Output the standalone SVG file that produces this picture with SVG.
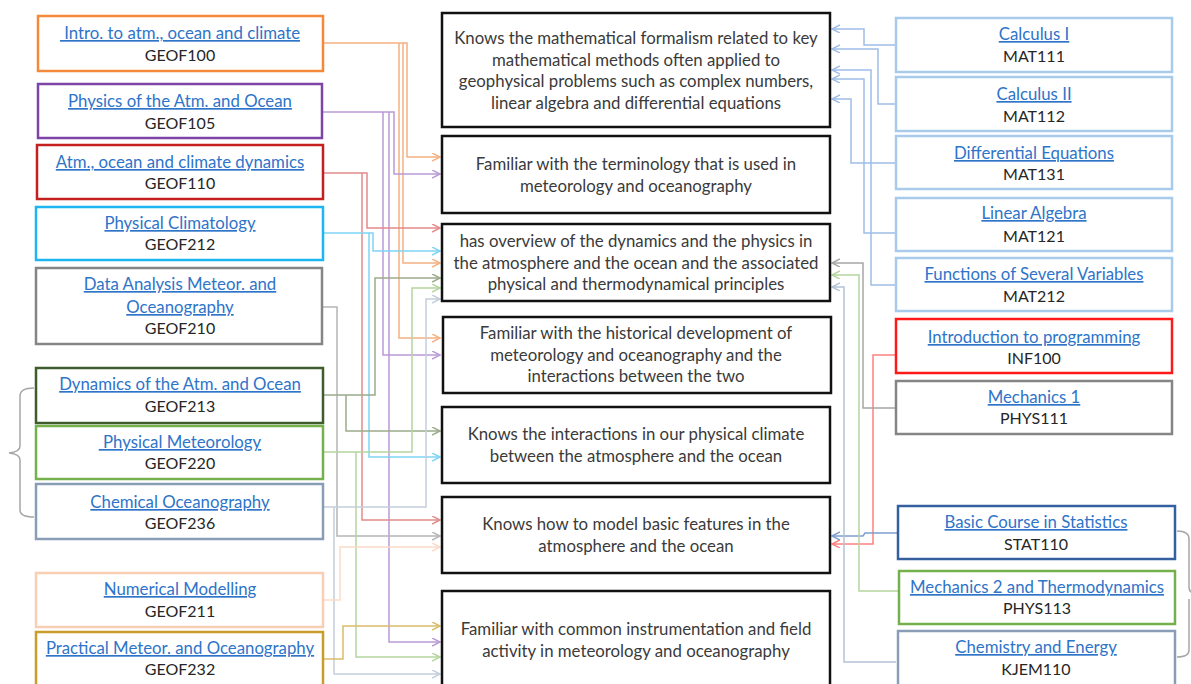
<svg xmlns="http://www.w3.org/2000/svg" width="1191" height="684" viewBox="0 0 1191 684">
<defs>
<style>
.t{font-family:Lato,"Liberation Sans",sans-serif;font-size:16.8px;text-anchor:middle}
.ln{fill:#2E74C9;text-decoration:underline}
.cd{fill:#262626;font-size:16px}
.ob{fill:#3A3A3A}
.nb{fill:#fff;stroke-width:2.5}
.cb{fill:#fff;stroke:#111;stroke-width:2.5}
.c{fill:none;stroke-width:1.5}
</style>
<marker id="a-or" markerWidth="10" markerHeight="10" refX="8" refY="4" orient="auto" markerUnits="userSpaceOnUse"><path d="M0,0 L8,4 L0,8" fill="none" stroke="#F4B183" stroke-width="1.5"/></marker>
<marker id="a-pu" markerWidth="10" markerHeight="10" refX="8" refY="4" orient="auto" markerUnits="userSpaceOnUse"><path d="M0,0 L8,4 L0,8" fill="none" stroke="#B99BD6" stroke-width="1.5"/></marker>
<marker id="a-re" markerWidth="10" markerHeight="10" refX="8" refY="4" orient="auto" markerUnits="userSpaceOnUse"><path d="M0,0 L8,4 L0,8" fill="none" stroke="#E48B8B" stroke-width="1.5"/></marker>
<marker id="a-lb" markerWidth="10" markerHeight="10" refX="8" refY="4" orient="auto" markerUnits="userSpaceOnUse"><path d="M0,0 L8,4 L0,8" fill="none" stroke="#7FD3F4" stroke-width="1.5"/></marker>
<marker id="a-gr" markerWidth="10" markerHeight="10" refX="8" refY="4" orient="auto" markerUnits="userSpaceOnUse"><path d="M0,0 L8,4 L0,8" fill="none" stroke="#B5B5B5" stroke-width="1.5"/></marker>
<marker id="a-dg" markerWidth="10" markerHeight="10" refX="8" refY="4" orient="auto" markerUnits="userSpaceOnUse"><path d="M0,0 L8,4 L0,8" fill="none" stroke="#9AAA8A" stroke-width="1.5"/></marker>
<marker id="a-gn" markerWidth="10" markerHeight="10" refX="8" refY="4" orient="auto" markerUnits="userSpaceOnUse"><path d="M0,0 L8,4 L0,8" fill="none" stroke="#B5D59E" stroke-width="1.5"/></marker>
<marker id="a-bg" markerWidth="10" markerHeight="10" refX="8" refY="4" orient="auto" markerUnits="userSpaceOnUse"><path d="M0,0 L8,4 L0,8" fill="none" stroke="#C4CEDC" stroke-width="1.5"/></marker>
<marker id="a-lo" markerWidth="10" markerHeight="10" refX="8" refY="4" orient="auto" markerUnits="userSpaceOnUse"><path d="M0,0 L8,4 L0,8" fill="none" stroke="#FADBC8" stroke-width="1.5"/></marker>
<marker id="a-go" markerWidth="10" markerHeight="10" refX="8" refY="4" orient="auto" markerUnits="userSpaceOnUse"><path d="M0,0 L8,4 L0,8" fill="none" stroke="#D9BC6A" stroke-width="1.5"/></marker>
<marker id="a-mb" markerWidth="10" markerHeight="10" refX="8" refY="4" orient="auto" markerUnits="userSpaceOnUse"><path d="M0,0 L8,4 L0,8" fill="none" stroke="#9FBDE8" stroke-width="1.5"/></marker>
<marker id="a-rr" markerWidth="10" markerHeight="10" refX="8" refY="4" orient="auto" markerUnits="userSpaceOnUse"><path d="M0,0 L8,4 L0,8" fill="none" stroke="#FF8080" stroke-width="1.5"/></marker>
<marker id="a-g2" markerWidth="10" markerHeight="10" refX="8" refY="4" orient="auto" markerUnits="userSpaceOnUse"><path d="M0,0 L8,4 L0,8" fill="none" stroke="#A6A6A6" stroke-width="1.5"/></marker>
<marker id="a-db" markerWidth="10" markerHeight="10" refX="8" refY="4" orient="auto" markerUnits="userSpaceOnUse"><path d="M0,0 L8,4 L0,8" fill="none" stroke="#7F9FD0" stroke-width="1.5"/></marker>
<marker id="a-kb" markerWidth="10" markerHeight="10" refX="8" refY="4" orient="auto" markerUnits="userSpaceOnUse"><path d="M0,0 L8,4 L0,8" fill="none" stroke="#B4C2D8" stroke-width="1.5"/></marker>
</defs>
<rect width="1191" height="684" fill="#fff"/>

<g id="connectors">
<path class="c" stroke="#F4B183" marker-end="url(#a-or)" d="M323,43 H407 V157 H440"/>
<path class="c" stroke="#F4B183" marker-end="url(#a-or)" d="M403,43 V263 H440"/>
<path class="c" stroke="#F4B183" marker-end="url(#a-or)" d="M399,43 V338 H440"/>
<path class="c" stroke="#B99BD6" marker-end="url(#a-pu)" d="M323,112 H394 V174 H440"/>
<path class="c" stroke="#B99BD6" marker-end="url(#a-pu)" d="M389,112 V642 H440"/>
<path class="c" stroke="#B99BD6" marker-end="url(#a-pu)" d="M383,112 V355 H440"/>
<path class="c" stroke="#E48B8B" marker-end="url(#a-re)" d="M323,173 H367 V228 H440"/>
<path class="c" stroke="#E48B8B" marker-end="url(#a-re)" d="M362,173 V520 H440"/>
<path class="c" stroke="#7FD3F4" marker-end="url(#a-lb)" d="M323,233 H373 V251 H440"/>
<path class="c" stroke="#7FD3F4" marker-end="url(#a-lb)" d="M369,233 V457 H440"/>
<path class="c" stroke="#B5B5B5" marker-end="url(#a-gr)" d="M323,307 H337 V536 H440"/>
<path class="c" stroke="#9AAA8A" marker-end="url(#a-dg)" d="M323,395 H375 V278 H440"/>
<path class="c" stroke="#9AAA8A" marker-end="url(#a-dg)" d="M346,395 V431 H440"/>
<path class="c" stroke="#B5D59E" marker-end="url(#a-gn)" d="M323,452 H412 V288 H440"/>
<path class="c" stroke="#B5D59E" marker-end="url(#a-gn)" d="M356,452 V657 H440"/>
<path class="c" stroke="#C4CEDC" marker-end="url(#a-bg)" d="M323,507 H426 V299 H440"/>
<path class="c" stroke="#C4CEDC" marker-end="url(#a-bg)" d="M334,507 V674 H440"/>
<path class="c" stroke="#FADBC8" marker-end="url(#a-lo)" d="M323,600 H340 V547 H440"/>
<path class="c" stroke="#D9BC6A" marker-end="url(#a-go)" d="M323,659 H343 V626 H440"/>

<path class="c" stroke="#9FBDE8" marker-end="url(#a-mb)" d="M896,45 H864 V29 H832"/>
<path class="c" stroke="#9FBDE8" marker-end="url(#a-mb)" d="M896,104 H878 V49 H832"/>
<path class="c" stroke="#9FBDE8" marker-end="url(#a-mb)" d="M896,163 H851 V99 H832"/>
<path class="c" stroke="#9FBDE8" marker-end="url(#a-mb)" d="M896,233 H864 V79 H832"/>
<path class="c" stroke="#9FBDE8" marker-end="url(#a-mb)" d="M896,285 H871 V70 H832"/>
<path class="c" stroke="#FF8080" marker-end="url(#a-rr)" d="M896,355 H873 V544 H832"/>
<path class="c" stroke="#A6A6A6" marker-end="url(#a-g2)" d="M896,408 H863 V263 H832"/>
<path class="c" stroke="#7F9FD0" marker-end="url(#a-db)" d="M898,533 H865 L863,536 H832"/>
<path class="c" stroke="#B5D59E" marker-end="url(#a-gn)" d="M899,591 H859 V275 H832"/>
<path class="c" stroke="#B4C2D8" marker-end="url(#a-kb)" d="M896,662 H844 V287 H832"/>

<path class="c" stroke="#A6A6A6" d="M34,388 Q20,388 20,396 V446 Q20,452 9,453 Q20,454 20,460 V510 Q20,517 34,517"/>
<path class="c" stroke="#A6A6A6" d="M1177,531 Q1189,531 1189,539 V587 Q1189,593 1195,593 M1189,599 V650 Q1189,657 1177,657"/>
</g>

<g id="geof100"><rect class="nb" x="38" y="16" width="285" height="55" stroke="#F4893A"/><text class="t ln" x="180" y="39" xml:space="preserve"> Intro. to atm., ocean and climate</text><text class="t cd" x="180" y="61">GEOF100</text></g>
<g id="geof105"><rect class="nb" x="38" y="84" width="284" height="54" stroke="#7E44A8"/><text class="t ln" x="180" y="107">Physics of the Atm. and Ocean</text><text class="t cd" x="180" y="129">GEOF105</text></g>
<g id="geof110"><rect class="nb" x="37" y="145" width="286" height="54" stroke="#C42020"/><text class="t ln" x="180" y="168">Atm., ocean and climate dynamics</text><text class="t cd" x="180" y="189">GEOF110</text></g>
<g id="geof212"><rect class="nb" x="36" y="207" width="287" height="53" stroke="#1EB6F0"/><text class="t ln" x="180" y="229">Physical Climatology</text><text class="t cd" x="180" y="250">GEOF212</text></g>
<g id="geof210"><rect class="nb" x="36" y="268" width="286" height="76" stroke="#858585"/><text class="t ln" x="180" y="290">Data Analysis Meteor. and</text><text class="t ln" x="180" y="313">Oceanography</text><text class="t cd" x="180" y="334">GEOF210</text></g>
<g id="geof213"><rect class="nb" x="36" y="368" width="287" height="55" stroke="#3F5D2C"/><text class="t ln" x="180" y="390">Dynamics of the Atm. and Ocean</text><text class="t cd" x="180" y="412">GEOF213</text></g>
<g id="geof220"><rect class="nb" x="36" y="426" width="287" height="53" stroke="#74B04C"/><text class="t ln" x="180" y="448" xml:space="preserve"> Physical Meteorology</text><text class="t cd" x="180" y="469">GEOF220</text></g>
<g id="geof236"><rect class="nb" x="36" y="484" width="287" height="55" stroke="#8A9DB6"/><text class="t ln" x="180" y="508">Chemical Oceanography</text><text class="t cd" x="180" y="529">GEOF236</text></g>
<g id="geof211"><rect class="nb" x="36" y="573" width="287" height="54" stroke="#F9CFB4"/><text class="t ln" x="180" y="595">Numerical Modelling</text><text class="t cd" x="180" y="617">GEOF211</text></g>
<g id="geof232"><rect class="nb" x="36" y="632" width="287" height="56" stroke="#C99D2A"/><text class="t ln" x="180" y="654">Practical Meteor. and Oceanography</text><text class="t cd" x="180" y="675">GEOF232</text></g>

<g id="o1"><rect class="cb" x="442" y="13" width="388" height="114"/><text class="t ob" x="636" y="44">Knows the mathematical formalism related to key</text><text class="t ob" x="636" y="66">mathematical methods often applied to</text><text class="t ob" x="636" y="87">geophysical problems such as complex numbers,</text><text class="t ob" x="636" y="109">linear algebra and differential equations</text></g>
<g id="o2"><rect class="cb" x="442" y="136" width="388" height="77"/><text class="t ob" x="636" y="170">Familiar with the terminology that is used in</text><text class="t ob" x="636" y="192">meteorology and oceanography</text></g>
<g id="o3"><rect class="cb" x="442" y="224" width="388" height="77"/><text class="t ob" x="636" y="247">has overview of the dynamics and the physics in</text><text class="t ob" x="636" y="269">the atmosphere and the ocean and the associated</text><text class="t ob" x="636" y="290">physical and thermodynamical principles</text></g>
<g id="o4"><rect class="cb" x="443" y="317" width="388" height="76"/><text class="t ob" x="636" y="339">Familiar with the historical development of</text><text class="t ob" x="636" y="361">meteorology and oceanography and the</text><text class="t ob" x="636" y="382">interactions between the two</text></g>
<g id="o5"><rect class="cb" x="442" y="407" width="388" height="76"/><text class="t ob" x="636" y="440">Knows the interactions in our physical climate</text><text class="t ob" x="636" y="462">between the atmosphere and the ocean</text></g>
<g id="o6"><rect class="cb" x="442" y="497" width="388" height="76"/><text class="t ob" x="636" y="530">Knows how to model basic features in the</text><text class="t ob" x="636" y="552">atmosphere and the ocean</text></g>
<g id="o7"><rect class="cb" x="442" y="591" width="388" height="100"/><text class="t ob" x="636" y="635">Familiar with common instrumentation and field</text><text class="t ob" x="636" y="657">activity in meteorology and oceanography</text></g>

<g id="mat111"><rect class="nb" x="896" y="18" width="276" height="54" stroke="#A9CBEB"/><text class="t ln" x="1034" y="40">Calculus I</text><text class="t cd" x="1034" y="62">MAT111</text></g>
<g id="mat112"><rect class="nb" x="896" y="77" width="276" height="54" stroke="#A9CBEB"/><text class="t ln" x="1034" y="100">Calculus II</text><text class="t cd" x="1034" y="122">MAT112</text></g>
<g id="mat131"><rect class="nb" x="896" y="136" width="276" height="53" stroke="#A9CBEB"/><text class="t ln" x="1034" y="159">Differential Equations</text><text class="t cd" x="1034" y="180">MAT131</text></g>
<g id="mat121"><rect class="nb" x="896" y="198" width="276" height="53" stroke="#A9CBEB"/><text class="t ln" x="1034" y="219">Linear Algebra</text><text class="t cd" x="1034" y="242">MAT121</text></g>
<g id="mat212"><rect class="nb" x="896" y="258" width="276" height="53" stroke="#A9CBEB"/><text class="t ln" x="1034" y="280">Functions of Several Variables</text><text class="t cd" x="1034" y="302">MAT212</text></g>
<g id="inf100"><rect class="nb" x="896" y="319" width="276" height="54" stroke="#FF1A1A"/><text class="t ln" x="1034" y="343">Introduction to programming</text><text class="t cd" x="1034" y="364">INF100</text></g>
<g id="phys111"><rect class="nb" x="896" y="381" width="276" height="53" stroke="#858585"/><text class="t ln" x="1034" y="403">Mechanics 1</text><text class="t cd" x="1034" y="424">PHYS111</text></g>
<g id="stat110"><rect class="nb" x="898" y="506" width="277" height="53" stroke="#3460A0"/><text class="t ln" x="1036" y="528">Basic Course in Statistics</text><text class="t cd" x="1036" y="550">STAT110</text></g>
<g id="phys113"><rect class="nb" x="899" y="571" width="276" height="53" stroke="#74B04C"/><text class="t ln" x="1037" y="593">Mechanics 2 and Thermodynamics</text><text class="t cd" x="1037" y="614">PHYS113</text></g>
<g id="kjem110"><rect class="nb" x="898" y="631" width="277" height="58" stroke="#8A9DB6"/><text class="t ln" x="1036" y="653">Chemistry and Energy</text><text class="t cd" x="1036" y="675">KJEM110</text></g>
</svg>
